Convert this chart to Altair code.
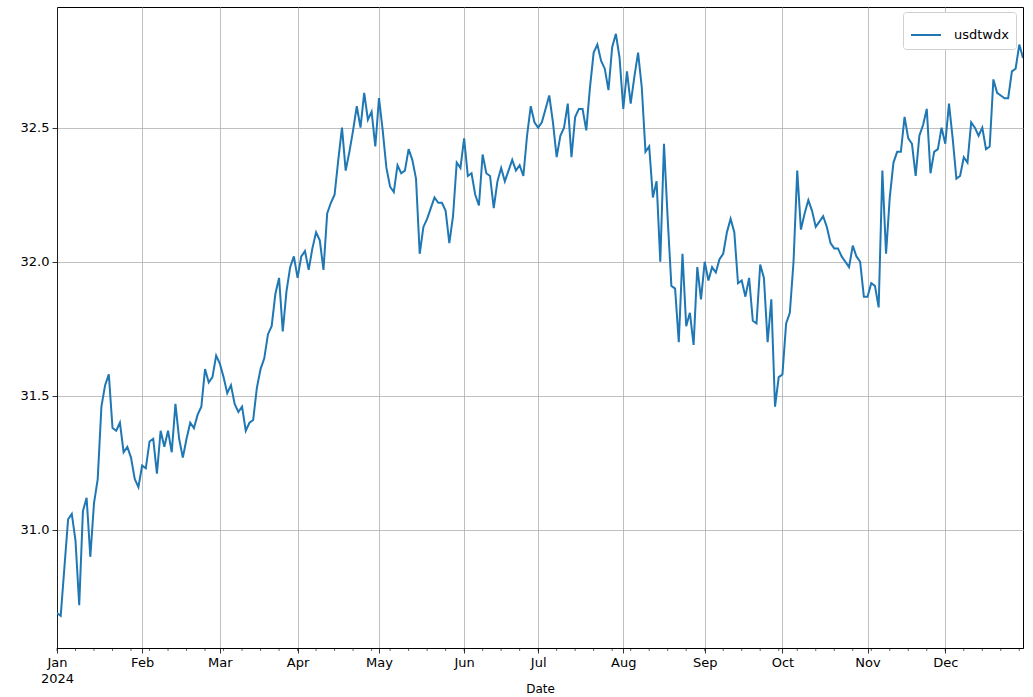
import altair as alt
import pandas as pd

# Daily USD/TWD values (business days of 2024)
values = [
    30.69, 30.68, 30.86, 31.04, 31.06, 30.96, 30.72, 31.07, 31.12, 30.90,
    31.10, 31.19, 31.46, 31.54, 31.58, 31.38, 31.37, 31.40, 31.29, 31.31,
    31.27, 31.19, 31.16, 31.24, 31.23, 31.33, 31.34, 31.21, 31.37, 31.31,
    31.37, 31.29, 31.47, 31.34, 31.27, 31.34, 31.40, 31.38, 31.43, 31.46,
    31.60, 31.55, 31.57, 31.65, 31.62, 31.57, 31.51, 31.54, 31.47, 31.44,
    31.46, 31.37, 31.40, 31.41, 31.53, 31.60, 31.64, 31.73, 31.76, 31.88,
    31.94, 31.74, 31.89, 31.98, 32.02, 31.94, 32.02, 32.04, 31.97, 32.05,
    32.11, 32.08, 31.97, 32.18, 32.22, 32.25, 32.38, 32.50, 32.34, 32.41,
    32.49, 32.58, 32.50, 32.63, 32.53, 32.56, 32.43, 32.61, 32.49, 32.35,
    32.28, 32.26, 32.36, 32.33, 32.34, 32.42, 32.38, 32.31, 32.03, 32.13,
    32.16, 32.20, 32.24, 32.22, 32.22, 32.19, 32.07, 32.17, 32.37, 32.35,
    32.46, 32.32, 32.33, 32.25, 32.21, 32.40, 32.33, 32.32, 32.20, 32.30,
    32.35, 32.30, 32.34, 32.38, 32.34, 32.36, 32.32, 32.47, 32.58, 32.52,
    32.50, 32.52, 32.57, 32.62, 32.52, 32.39, 32.47, 32.50, 32.59, 32.39,
    32.54, 32.57, 32.57, 32.49, 32.65, 32.78, 32.81, 32.75, 32.72, 32.64,
    32.80, 32.85, 32.76, 32.57, 32.71, 32.59, 32.69, 32.78, 32.65, 32.41,
    32.43, 32.24, 32.30, 32.00, 32.44, 32.16, 31.91, 31.90, 31.70, 32.03,
    31.76, 31.81, 31.69, 31.98, 31.86, 32.00, 31.93, 31.98, 31.96, 32.01,
    32.03, 32.11, 32.16, 32.11, 31.92, 31.93, 31.87, 31.94, 31.78, 31.77,
    31.99, 31.94, 31.70, 31.86, 31.46, 31.57, 31.58, 31.77, 31.81, 32.00,
    32.34, 32.12, 32.18, 32.23, 32.19, 32.13, 32.15, 32.17, 32.13, 32.07,
    32.05, 32.05, 32.02, 32.00, 31.98, 32.06, 32.02, 32.00, 31.87, 31.87,
    31.92, 31.91, 31.83, 32.34, 32.03, 32.24, 32.37, 32.41, 32.41, 32.54,
    32.46, 32.44, 32.32, 32.47, 32.51, 32.57, 32.33, 32.41, 32.42, 32.50,
    32.44, 32.59, 32.46, 32.31, 32.32, 32.39, 32.37, 32.52, 32.50, 32.47,
    32.50, 32.42, 32.43, 32.68, 32.63, 32.62, 32.61, 32.61, 32.71, 32.72,
    32.81, 32.76,
]
series_name = "usdtwdx"
month_names = ["Jan", "Feb", "Mar", "Apr", "May", "Jun",
               "Jul", "Aug", "Sep", "Oct", "Nov", "Dec"]
y_ticks = [31.0, 31.5, 32.0, 32.5]

dates = pd.bdate_range("2024-01-01", periods=len(values))
df = pd.DataFrame({
    "idx": list(range(len(values))),
    "Date": dates.strftime("%Y-%m-%d"),
    "value": values,
    "series": series_name,
})

# first business day of each month -> major ticks; Mondays -> minor ticks
month_idx = []
seen = set()
for i, d in enumerate(dates):
    if d.month not in seen:
        seen.add(d.month)
        month_idx.append(i)
monday_idx = [i for i, d in enumerate(dates) if d.weekday() == 0]

expr_parts = []
for k, (mi, name) in enumerate(zip(month_idx, month_names)):
    lab = "['Jan','2024']" if k == 0 else f"'{name}'"
    expr_parts.append(f"datum.value == {mi} ? {lab} : ")
label_expr = "".join(expr_parts) + "''"

W, H = 966, 641
FONT = "DejaVu Sans"
x_scale = alt.Scale(domain=[0, len(values) - 1], nice=False, zero=False)
y_scale = alt.Scale(domain=[30.56, 32.95], nice=False, zero=False)

line = alt.Chart(df).mark_line(strokeWidth=2, clip=True).encode(
    x=alt.X("idx:Q", scale=x_scale, title="Date",
            axis=alt.Axis(values=month_idx, labelExpr=label_expr,
                          grid=True, gridColor="#b0b0b0", gridWidth=0.8,
                          tickColor="black", tickSize=5, tickWidth=0.8,
                          domainColor="black", domainWidth=0.8,
                          labelFont=FONT, labelFontSize=13, labelColor="black",
                          labelPadding=3, labelLineHeight=16,
                          titleFont=FONT, titleFontSize=12, titleFontWeight="normal",
                          titleColor="black", titleBaseline="bottom", titleY=47,
                          labelFlush=False)),
    y=alt.Y("value:Q", scale=y_scale, title=None,
            axis=alt.Axis(values=y_ticks, format=".1f",
                          grid=True, gridColor="#b0b0b0", gridWidth=0.8,
                          tickColor="black", tickSize=5, tickWidth=0.8,
                          domainColor="black", domainWidth=0.8,
                          labelFont=FONT, labelFontSize=13, labelColor="black",
                          labelPadding=3)),
    color=alt.Color("series:N",
                    scale=alt.Scale(domain=[series_name], range=["#1f77b4"]),
                    legend=alt.Legend(title=None, orient="none",
                                      legendX=846, legendY=5,
                                      symbolType="stroke", symbolSize=900,
                                      symbolStrokeWidth=2,
                                      labelFont=FONT, labelFontSize=13,
                                      labelColor="black", labelOffset=12,
                                      strokeColor="#d0d0d0", fillColor="white",
                                      cornerRadius=3, padding=7)),
    tooltip=["Date:N", "value:Q"],
)

minor = alt.Chart(pd.DataFrame({"idx": monday_idx})).mark_rule(
    color="black", strokeWidth=0.6
).encode(
    x=alt.X("idx:Q", scale=x_scale),
    y=alt.value(H),
    y2=alt.value(H + 3),
)

chart = alt.layer(line, minor).properties(
    width=W, height=H,
    autosize=alt.AutoSizeParams(type="none"),
    padding={"left": 57, "top": 7, "right": 10, "bottom": 49},
).configure_view(stroke="black", strokeWidth=1)

chart.save("out.html", embed_options={"renderer": "svg", "actions": False})
